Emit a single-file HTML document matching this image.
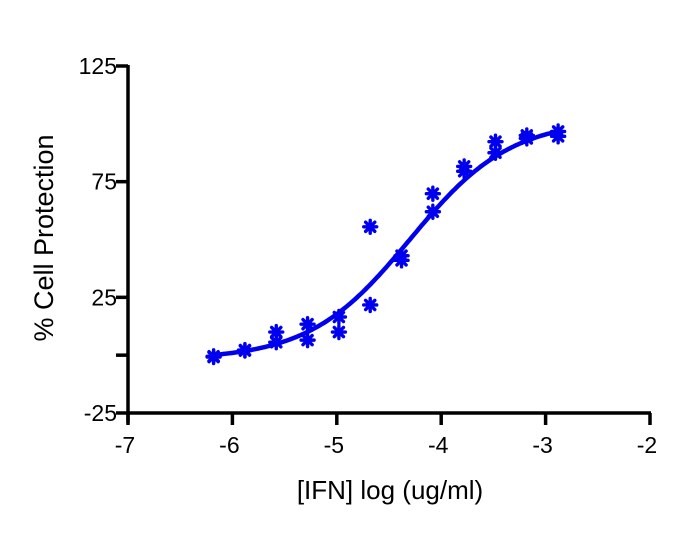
<!DOCTYPE html>
<html><head><meta charset="utf-8"><style>
body{margin:0;background:#fff;}
svg text{font-family:"Liberation Sans",Arial,sans-serif;fill:#000;}
</style></head><body>
<svg width="690" height="550" viewBox="0 0 690 550">
<g id="axes"></g>
<g id="curve"></g>
<g id="points"></g>
<text x="390" y="499" font-size="26" text-anchor="middle">[IFN] log (ug/ml)</text>
<text transform="translate(53,238) rotate(-90)" font-size="27" text-anchor="middle">% Cell Protection</text>
</svg>
<script>
const xTicks=[-7,-6,-5,-4,-3,-2];
const yTicks=[125,75,25,0,-25];
const yTickLabels=["125","75","25","","-25"];
const doseX=[-6.18,-5.88,-5.58,-5.58,-5.28,-5.28,-4.98,-4.98,-4.68,-4.68,-4.38,-4.38,-4.08,-4.08,-3.78,-3.78,-3.48,-3.48,-3.18,-3.18,-2.88,-2.88,-6.18,-5.88];
const protectionY=[-0.8,2,10,5.6,13.4,6.5,16.5,10,55.5,21.7,43,41,69.8,62,81.6,79.5,92.3,87.5,95,93.7,96.7,94.6,-0.5,2.2];
const fitBottom=-2, fitTop=102, fitLogEC50=-4.3, fitHill=0.9;
const NS="http://www.w3.org/2000/svg";
const X0=128,X1=650,Y0=413,Y1=66;
const sx=v=>X0+(v-(-7))/5*(X1-X0);
const sy=v=>Y0-(v-(-25))/150*(Y0-Y1);
function mk(t,a,p){const e=document.createElementNS(NS,t);for(const k in a)e.setAttribute(k,a[k]);p.appendChild(e);return e;}
const ax=document.getElementById('axes');
const yl=mk('line',{x1:X0,y1:Y1-1,x2:X0,y2:Y0+10,stroke:'#000','stroke-width':3.5},ax);


const xl=mk('line',{x1:X0-1,y1:Y0,x2:X1+1,y2:Y0,stroke:'#000','stroke-width':3.5},ax);


yTicks.forEach((v,i)=>{
 const tk=mk('line',{x1:X0-12,y1:sy(v),x2:X0,y2:sy(v),stroke:'#000','stroke-width':3.5},ax);
 
 
 if(yTickLabels[i]){const t=mk('text',{x:X0-11,y:sy(v)+8,'font-size':23,'text-anchor':'end'},ax);t.textContent=yTickLabels[i];
 
 }
});
xTicks.forEach(v=>{
 const tk=mk('line',{x1:sx(v),y1:Y0,x2:sx(v),y2:Y0+12,stroke:'#000','stroke-width':3.5},ax);
 
 
 const t=mk('text',{x:sx(v)-3,y:Y0+40,'font-size':23,'text-anchor':'middle'},ax);t.textContent=String(v);
 
 
});
const cg=document.getElementById('curve');
let d='';
for(let i=0;i<=200;i++){const x=-6.18+(-2.88+6.18)*i/200;const y=fitBottom+(fitTop-fitBottom)/(1+Math.pow(10,(fitLogEC50-x)*fitHill));d+=(i?'L':'M')+sx(x).toFixed(1)+' '+sy(y).toFixed(1);}
const path=mk('path',{d:d,fill:'none',stroke:'#0000ee','stroke-width':4.5},cg);


const pg=document.getElementById('points');
doseX.forEach((x,i)=>{
 const cx=sx(x),cy=sy(protectionY[i]);
 const g=mk('g',{stroke:'#0000ee','stroke-width':3.4,'stroke-linecap':'round'},pg);
 
 
 for(let k=0;k<4;k++){const a=k*Math.PI/4;const dx=6.5*Math.cos(a),dy=6.5*Math.sin(a);mk('line',{x1:cx-dx,y1:cy-dy,x2:cx+dx,y2:cy+dy},g);}
 mk('circle',{cx:cx,cy:cy,r:3.5,fill:'#0000ee',stroke:'none'},g);
});
</script>
</body></html>
